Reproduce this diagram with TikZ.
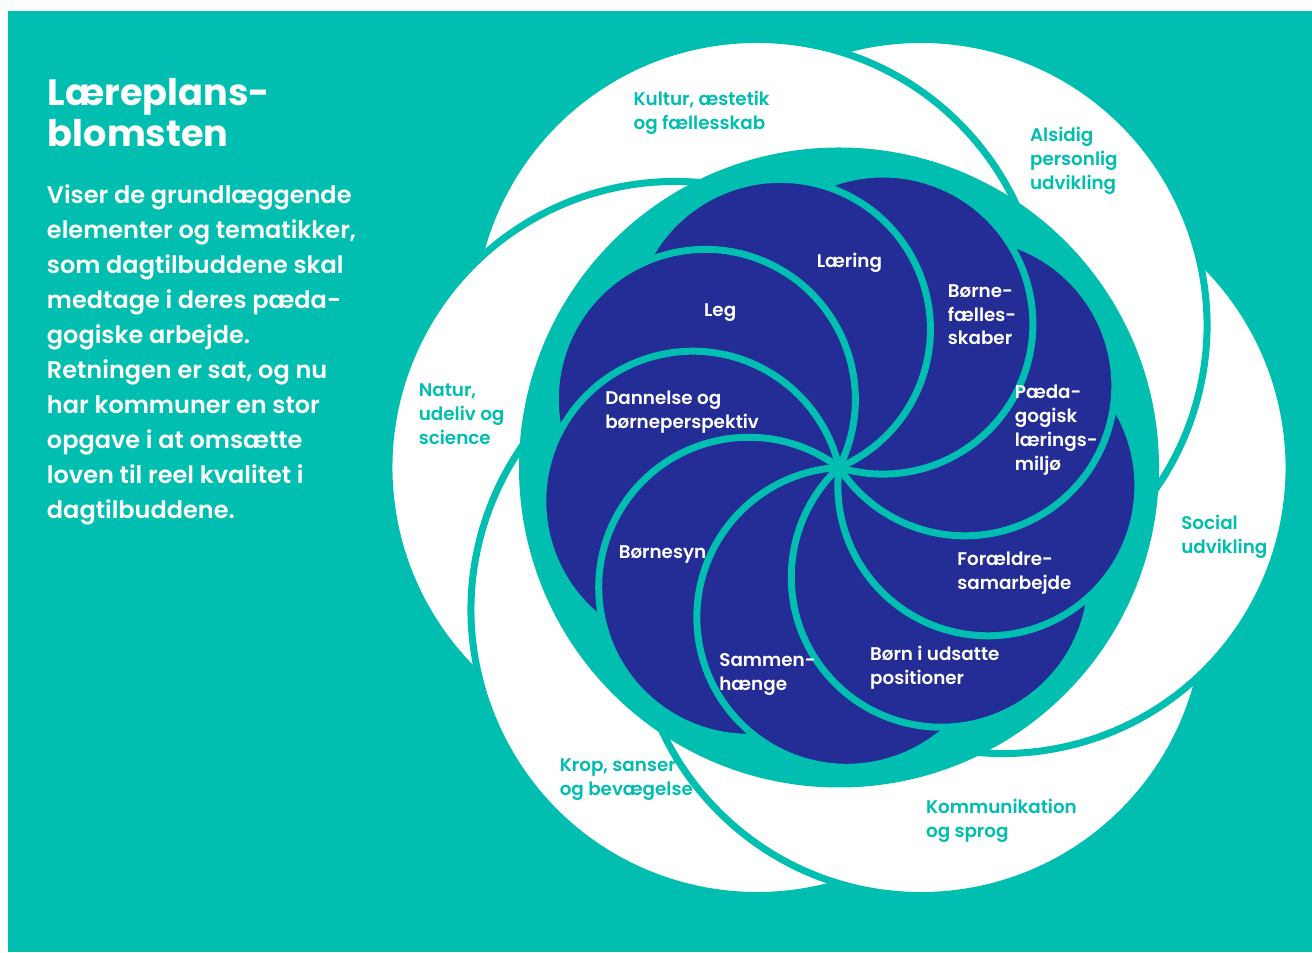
\documentclass[tikz,border=0pt]{standalone}
\usepackage{fontspec}
\setmainfont{Poppins}
\newfontfamily\psb{Poppins SemiBold}
\definecolor{teal1}{HTML}{00BEB0}
\definecolor{navy1}{HTML}{242C96}
\newcommand\lns[1]{\vtop{\halign{##\hfil\cr#1\crcr}}}
\begin{document}
\begin{tikzpicture}[x=0.75pt,y=0.75pt,
  petalline/.style={draw=teal1,line width=5.25pt},
  spiralline/.style={draw=teal1,line width=5.25pt},
  plab/.style={inner sep=0pt,anchor=base west,text=teal1,font=\psb\fontsize{13.75}{17.8}\selectfont},
  nlab/.style={inner sep=0pt,anchor=base west,text=white,font=\psb\fontsize{13.75}{17.8}\selectfont},
  titletext/.style={inner sep=0pt,anchor=base west,text=white,font=\bfseries\fontsize{27.5}{30.5}\selectfont},
  bodytext/.style={inner sep=0pt,anchor=base west,text=white,font=\psb\fontsize{18}{26.25}\selectfont}]
\useasboundingbox (0,0) rectangle (1312,952);
\fill[white] (0,0) rectangle (1312,952);
\fill[teal1] (8,0) rectangle (1312,941);
\coordinate (C) at (839,484.5);
% outer petals
\foreach \t in {0,60,...,300}{\fill[white] (C) ++(\t:164) circle[radius=286];}
\foreach \t in {0,60,...,300}{\draw[petalline] (C) ++(\t:164) ++(\t+193.3:286) arc[start angle=\t+193.3,end angle=\t+406.7,radius=286];}
% teal disc
\fill[teal1] (C) circle[radius=320];
% spiral circles
\foreach \p in {113,153,...,433}{\fill[navy1] (C) ++(\p:150) circle[radius=150];}
\foreach \p in {113,153,...,433}{\draw[spiralline] (C) arc[start angle=\p+180,end angle=\p+400,radius=150];}
% petal labels
\node[plab] (kultur) at (633.3,846) {\lns{Kultur, æstetik\cr og fællesskab}};
\node[plab] (alsidig) at (1029.8,810.3) {\lns{Alsidig\cr personlig\cr udvikling}};
\node[plab] (natur) at (418.6,555.3) {\lns{Natur,\cr udeliv og\cr science}};
\node[plab] (social) at (1181,422) {\lns{Social\cr udvikling}};
\node[plab] (kommunikation) at (925.8,138) {\lns{Kommunikation\cr og sprog}};
\node[plab] (krop) at (559.5,180.3) {\lns{Krop, sanser\cr og bevægelse}};
% inner labels
\node[nlab] (laering) at (816.5,684.5) {Læring};
\node[nlab] (leg) at (703.8,635.8) {Leg};
\node[nlab] (boernefaelles) at (947.6,654.6) {\lns{Børne-\cr fælles-\cr skaber}};
\node[nlab] (dannelse) at (605,547.4) {\lns{Dannelse og\cr børneperspektiv}};
\node[nlab] (paeda) at (1014.6,553.1) {\lns{Pæda-\cr gogisk\cr lærings-\cr miljø}};
\node[nlab] (boernesyn) at (618.5,393.6) {Børnesyn};
\node[nlab] (foraeldre) at (957.1,386.7) {\lns{Forældre-\cr samarbejde}};
\node[nlab] (sammen) at (719.1,285.6) {\lns{Sammen-\cr hænge}};
\node[nlab] (udsatte) at (869.9,291) {\lns{Børn i udsatte\cr positioner}};
% left text
\node[titletext] (title) at (47.7,846) {\lns{Læreplans-\cr blomsten}};
\node[bodytext] (body) at (46.7,748.7) {\lns{Viser de grundlæggende\cr elementer og tematikker,\cr som dagtilbuddene skal\cr medtage i deres pæda-\cr gogiske arbejde.\cr Retningen er sat, og nu\cr har kommuner en stor\cr opgave i at omsætte\cr loven til reel kvalitet i\cr dagtilbuddene.}};
\end{tikzpicture}
\end{document}
